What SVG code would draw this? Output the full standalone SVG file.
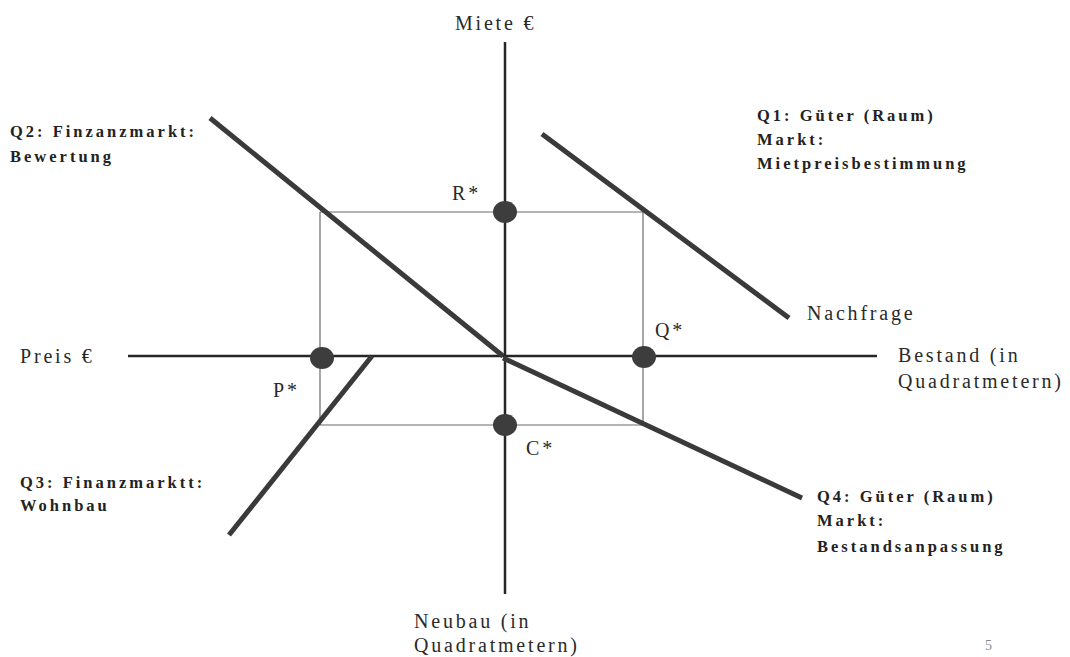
<svg xmlns="http://www.w3.org/2000/svg" width="1070" height="657" viewBox="0 0 1070 657">
<style>
.ax{stroke:#262626;stroke-width:2.5;fill:none}
.guide{stroke:#6a6a6a;stroke-width:1.2;fill:none}
.curve{stroke:#3a3a3a;stroke-width:5;fill:none}
.dot{fill:#3d3d3d}
text{font-family:"Liberation Serif","DejaVu Serif","Times New Roman",serif}
.lbl{font-size:20px;fill:#2a2a2a;letter-spacing:2.8px}
.q{font-size:16.5px;font-weight:bold;fill:#222;letter-spacing:3px}
</style>
<rect width="1070" height="657" fill="#fff"/>
<g id="connectors">
<line class="guide" x1="320" y1="212" x2="643" y2="212"/>
<line class="guide" x1="320" y1="425" x2="643" y2="425"/>
<line class="guide" x1="320" y1="212" x2="320" y2="425"/>
<line class="guide" x1="643" y1="212" x2="643" y2="425"/>
<line class="ax" x1="505" y1="42" x2="505" y2="594"/>
<line class="ax" x1="128" y1="356" x2="877" y2="356"/>
<line class="curve" x1="210" y1="118" x2="503" y2="356"/>
<line class="curve" x1="503" y1="358" x2="802" y2="498"/>
<line class="curve" x1="542" y1="134" x2="789" y2="318"/>
<line class="curve" x1="372" y1="356" x2="229" y2="535"/>
</g>
<g id="R"><ellipse class="dot" cx="505" cy="212" rx="12" ry="11"/><text class="lbl" x="452" y="200">R*</text></g>
<g id="Q"><ellipse class="dot" cx="644" cy="357" rx="12" ry="11"/><text class="lbl" x="655" y="337">Q*</text></g>
<g id="P"><ellipse class="dot" cx="322" cy="358" rx="12" ry="11"/><text class="lbl" x="273" y="397">P*</text></g>
<g id="C"><ellipse class="dot" cx="505" cy="425" rx="12" ry="11"/><text class="lbl" x="526" y="455">C*</text></g>
<g id="miete"><text class="lbl" x="455" y="30">Miete €</text></g>
<g id="preis"><text class="lbl" x="20" y="363">Preis €</text></g>
<g id="bestand"><text class="lbl" x="898" y="362">Bestand (in</text><text class="lbl" x="898" y="388">Quadratmetern)</text></g>
<g id="neubau"><text class="lbl" x="414" y="628">Neubau (in</text><text class="lbl" x="414" y="652">Quadratmetern)</text></g>
<g id="nachfrage"><text class="lbl" x="807" y="320">Nachfrage</text></g>
<g id="q1"><text class="q" x="757" y="121">Q1: Güter  (Raum)</text><text class="q" x="757" y="145">Markt:</text><text class="q" x="757" y="169">Mietpreisbestimmung</text></g>
<g id="q2"><text class="q" x="10" y="137">Q2: Finzanzmarkt:</text><text class="q" x="10" y="162">Bewertung</text></g>
<g id="q3"><text class="q" x="20" y="488">Q3: Finanzmarktt:</text><text class="q" x="20" y="511">Wohnbau</text></g>
<g id="q4"><text class="q" x="817" y="502">Q4: Güter (Raum)</text><text class="q" x="817" y="526">Markt:</text><text class="q" x="817" y="552">Bestandsanpassung</text></g>
<g id="page"><text x="985" y="650" style="font-size:14px;fill:#888">5</text></g>
</svg>
